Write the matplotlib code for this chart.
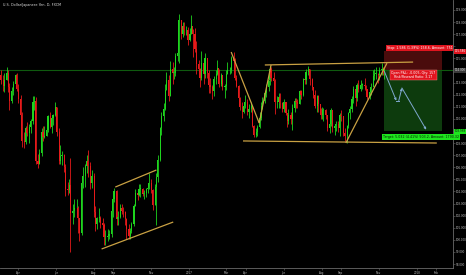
import matplotlib
matplotlib.use('Agg')
import matplotlib.pyplot as plt
import matplotlib.dates as mdates
import numpy as np
import pandas as pd
from matplotlib.patches import Rectangle

# ---------------- data (2-trading-day bars, USD/JPY) ----------------
first_open = 113.6
closes = [
    113.2, 112.7, 113.2, 113.8, 112.6, 111.5, 112.3, 112.9, 113.6, 112.5,
    111.6, 110.3, 108.2, 108.1, 109.2, 108.8, 109.3, 109.8, 111.4, 111.5, 106.5,
    106.3, 107.2, 108.9, 108.5, 108.6, 109.1, 110.2, 109.3, 110.1, 110.3, 111.0,
    108.9, 106.5, 106.9, 107.0, 106.0, 104.2, 104.1, 104.5, 102.2, 102.4, 102.6,
    102.6, 101.8, 100.6, 104.7, 105.3, 106.1, 106.5, 106.1, 104.7, 105.3, 102.3,
    101.3, 101.8, 101.8, 101.4, 101.2, 100.2, 100.2, 100.3, 100.5, 102.4, 103.4,
    104.0, 101.7, 101.9, 102.6, 102.4, 102.3, 101.7, 100.9, 100.3, 100.7, 101.3,
    102.8, 103.9, 103.7, 104.2, 104.2, 103.8, 103.9, 104.2, 104.3, 104.7, 104.1,
    102.9, 104.4, 105.2, 106.6, 109.2, 110.2, 110.8, 112.4, 113.2, 111.9, 114.1,
    113.8, 113.8, 115.2, 115.4, 118.2, 117.0, 117.7, 117.3, 117.3, 116.5, 117.0,
    117.7, 117.0, 115.8, 114.5, 114.1, 113.4, 114.6, 113.7, 115.0, 113.8, 112.8,
    112.6, 112.3, 113.3, 113.7, 114.2, 112.9, 113.6, 112.6, 112.7, 113.7,
    114.0, 114.0, 115.0, 114.8, 113.4, 112.7, 111.7, 111.0, 110.6, 111.1, 111.4,
    110.6, 110.8, 111.1, 109.4, 108.7, 108.9, 109.3, 110.1, 111.1, 111.5, 112.1,
    112.6, 113.2, 114.1, 113.4, 113.1, 111.4, 111.4, 111.8, 111.3, 110.8, 111.4,
    110.5, 109.8, 110.3, 110.0, 110.9, 111.5, 111.4, 111.2, 112.3, 112.0, 113.3,
    113.2, 113.9, 114.1, 113.3, 112.6, 112.0, 111.1, 111.9, 111.2, 110.3, 110.7,
    110.7, 110.3, 109.2, 109.6, 110.7, 109.2, 109.4, 109.6, 109.2, 110.3, 110.2,
    108.8, 108.6, 109.4, 110.5, 110.8, 111.6, 112.5, 111.7, 112.8, 112.5, 112.8,
    112.8, 112.7, 112.5, 111.8, 112.2, 112.6, 113.5, 113.7, 113.7, 113.6, 114.0,
    114.1, 113.9, 114.0,
]
highs = [
    114.0, 113.6, 113.8, 114.3, 114.0, 113.0, 112.6, 113.1, 113.7, 113.8,
    112.9, 112.0, 110.6, 108.9, 109.4, 109.7, 109.6, 110.0, 111.9, 111.9, 111.8,
    107.1, 107.5, 109.2, 109.4, 109.4, 109.5, 110.3, 110.6, 110.3, 110.4, 111.4,
    111.0, 109.2, 107.8, 107.3, 107.1, 106.3, 104.8, 105.0, 106.8, 103.0, 103.4,
    103.4, 102.8, 101.6, 104.9, 106.0, 106.3, 107.0, 107.4, 106.4, 105.8, 105.5,
    102.8, 101.9, 102.6, 102.0, 101.8, 101.4, 100.8, 100.9, 100.8, 102.6, 103.5,
    104.3, 104.1, 102.4, 103.0, 103.0, 102.7, 102.4, 101.8, 101.3, 101.0, 101.5,
    103.0, 104.2, 104.0, 104.6, 104.6, 104.3, 104.1, 104.3, 104.6, 105.5, 105.0,
    104.2, 104.6, 105.5, 107.0, 109.3, 110.6, 111.3, 112.9, 113.9, 113.6, 114.8,
    114.7, 114.3, 115.4, 116.1, 118.7, 118.2, 118.0, 118.0, 117.7, 117.6, 117.5,
    118.6, 117.4, 117.5, 116.4, 114.9, 114.2, 115.6, 114.8, 115.4, 115.0, 114.0,
    113.4, 112.8, 113.5, 114.0, 114.9, 114.1, 113.8, 113.5, 112.9, 114.0,
    114.7, 114.3, 115.2, 115.5, 115.0, 113.6, 112.8, 111.8, 111.4, 111.4, 112.0,
    111.6, 111.2, 111.4, 111.0, 109.5, 109.2, 109.5, 110.6, 111.4, 111.8, 112.3,
    112.9, 113.2, 114.4, 114.3, 113.9, 113.3, 111.9, 112.1, 112.1, 111.4, 111.6,
    111.4, 110.5, 110.8, 110.6, 111.2, 111.7, 111.7, 111.6, 112.4, 112.4, 113.4,
    113.5, 114.1, 114.4, 114.1, 113.4, 112.6, 112.4, 112.0, 112.0, 110.9, 111.0,
    110.9, 110.8, 110.2, 109.9, 110.9, 110.3, 109.6, 109.8, 109.8, 110.5, 110.7,
    110.1, 109.2, 109.5, 110.6, 111.1, 111.9, 112.7, 112.4, 113.0, 113.2, 113.2,
    113.0, 113.4, 112.8, 112.4, 112.4, 113.0, 114.0, 114.1, 114.3, 113.8, 114.3,
    114.6, 114.3, 114.2,
]
lows = [
    112.9, 112.3, 112.2, 113.2, 112.2, 110.7, 111.3, 112.0, 112.8, 112.3,
    111.3, 110.2, 107.7, 107.6, 107.9, 108.6, 108.0, 108.8, 109.6, 110.7, 106.3,
    105.9, 106.3, 106.9, 108.2, 108.4, 108.6, 108.9, 109.2, 108.8, 109.5, 110.2,
    108.6, 106.3, 106.3, 106.2, 105.6, 103.6, 103.7, 103.9, 99.0, 101.3, 101.9,
    102.3, 100.6, 99.9, 100.4, 104.3, 104.4, 105.5, 105.2, 104.2, 104.3, 101.9,
    100.7, 100.9, 101.5, 101.0, 100.9, 99.6, 99.6, 99.9, 100.1, 100.2, 101.9,
    103.1, 101.2, 101.2, 101.8, 102.1, 101.9, 101.2, 100.1, 100.1, 100.1, 100.6,
    101.1, 102.8, 103.3, 103.6, 103.5, 103.6, 103.4, 103.5, 103.9, 104.2, 103.9,
    102.5, 102.9, 101.2, 104.8, 106.5, 108.7, 109.8, 110.7, 112.4, 111.5, 111.9,
    112.9, 113.3, 113.5, 114.8, 114.6, 116.6, 116.8, 116.9, 116.9, 116.1, 116.4,
    117.0, 115.1, 115.5, 113.7, 113.6, 112.6, 113.2, 112.9, 113.4, 113.4, 112.1,
    112.1, 111.6, 111.9, 112.9, 113.6, 112.6, 112.7, 112.4, 111.7, 112.4,
    113.7, 113.7, 113.8, 114.6, 113.2, 112.6, 111.6, 110.7, 110.1, 110.5, 110.9,
    110.3, 110.1, 110.6, 109.3, 108.5, 108.5, 108.6, 109.2, 109.9, 110.8, 111.3,
    111.8, 112.3, 112.8, 113.1, 112.8, 110.4, 110.9, 110.9, 110.9, 110.6, 110.6,
    110.3, 109.3, 109.6, 109.6, 109.1, 110.6, 110.9, 110.9, 111.2, 111.6, 111.9,
    112.9, 112.9, 113.6, 112.8, 112.4, 111.7, 110.9, 110.6, 110.6, 110.0, 110.0,
    109.8, 110.0, 109.0, 108.8, 109.4, 108.9, 108.7, 109.0, 108.9, 108.6, 109.8,
    108.6, 108.2, 108.0, 109.2, 110.0, 110.6, 111.3, 111.1, 111.5, 112.2, 112.3,
    112.5, 112.4, 112.2, 111.6, 111.6, 112.0, 113.3, 113.2, 113.3, 113.0, 113.2,
    113.6, 113.6, 113.3,
]
start_date = '2016-03-04'

entry_price = 114.0
stop_price = 115.586
target_price = 108.968
pos_start, pos_end = '2017-11-10', '2018-02-11'

proj_dates = ['2017-11-10', '2017-11-29', '2017-12-03', '2017-12-08', '2018-01-16']
proj_prices = [113.9, 111.5, 111.5, 112.55, 109.1]

trend_lines = [  # (date1, price1, date2, price2)
    ('2016-09-04', 104.36, '2016-11-09', 105.77),
    ('2016-08-13', 99.24, '2016-12-06', 101.47),
    ('2017-03-09', 115.52, '2017-04-23', 109.65),
    ('2017-04-23', 109.65, '2017-05-12', 114.45),
    ('2017-05-02', 114.45, '2017-12-26', 114.69),
    ('2017-03-28', 108.17, '2018-02-02', 108.0),
    ('2017-09-09', 108.0, '2017-11-14', 114.6),
]

yticks = list(range(98, 120))
xtick_dates = ['2016-04-01', '2016-06-01', '2016-08-01', '2016-09-01', '2016-11-01',
               '2017-01-01', '2017-03-01', '2017-04-01', '2017-06-01', '2017-08-01',
               '2017-09-01', '2017-11-01', '2018-01-01', '2018-02-01']
xtick_labels = ['Apr', 'Jun', 'Aug', 'Sep', 'Nov', '2017', 'Mar', 'Apr', 'Jun', 'Aug',
                'Sep', 'Nov', '2018', 'Feb']
title = 'U.S. Dollar/Japanese Yen, D, FXCM'

# ---------------- plotting ----------------
W, H = 466, 275
YMIN, YMAX = 97.67, 119.82
fig = plt.figure(figsize=(W / 100, H / 100), dpi=100, facecolor='black')
ax = fig.add_axes([0, 7 / H, 453 / W, 268 / H])
ax.set_facecolor('black')

dates = pd.bdate_range(start_date, periods=len(closes), freq='2B')
x = mdates.date2num(dates)
c = np.array(closes)
o = np.concatenate([[first_open], c[:-1]])
h = np.array(highs)
l = np.array(lows)
up = c >= o
col = np.where(up, '#1ed41e', '#e51a1a')

ax.vlines(x, l, h, colors=col, linewidth=0.6, zorder=3)
bot = np.minimum(o, c)
ht = np.maximum(np.abs(c - o), 0.06)
ax.bar(x, ht, bottom=bot, width=1.8, color=col, linewidth=0, zorder=3)

# position tool
ps, pe = mdates.datestr2num(pos_start), mdates.datestr2num(pos_end)
ax.add_patch(Rectangle((ps, entry_price), pe - ps, stop_price - entry_price,
                       facecolor='#4a0c0c', edgecolor='none', zorder=1))
ax.add_patch(Rectangle((ps, target_price), pe - ps, entry_price - target_price,
                       facecolor='#0d3b0d', edgecolor='none', zorder=1))
ax.axhline(entry_price, color='#0f5a0f', linewidth=0.8, zorder=2)

# trend lines
for d1, p1, d2, p2 in trend_lines:
    ax.plot([mdates.datestr2num(d1), mdates.datestr2num(d2)], [p1, p2],
            color='#c9a143', linewidth=0.9, zorder=4, solid_capstyle='butt')

# projection path
px = mdates.datestr2num(proj_dates)
pc = '#7fa8cf'
segs = [(0, 1, True), (1, 2, False), (2, 3, True), (3, 4, True)]
for i, j, arrow in segs:
    if arrow:
        ax.annotate('', xy=(px[j], proj_prices[j]), xytext=(px[i], proj_prices[i]),
                    arrowprops=dict(arrowstyle='-|>', color=pc, lw=0.7,
                                    mutation_scale=3, shrinkA=0, shrinkB=0), zorder=5)
    else:
        ax.plot([px[i], px[j]], [proj_prices[i], proj_prices[j]], color=pc, lw=0.7, zorder=5)

# labels on position
mid = (ps + pe) / 2
fs = 2.3
ax.text(mid + 10, stop_price + 0.25, 'Stop: 1.586 (1.39%) 158.6, Amount: 751',
        color='white', fontsize=fs, ha='center', va='center', zorder=6,
        bbox=dict(boxstyle='square,pad=0.3', fc='#e0141e', ec='none'))
ax.text(mid, entry_price - 0.35, 'Open P&L: -0.005, Qty: 157\nRisk/Reward Ratio: 3.17',
        color='white', fontsize=fs, ha='center', va='center', zorder=6, linespacing=1.0,
        bbox=dict(boxstyle='square,pad=0.3', fc='#e0141e', ec='#ff8080', lw=0.3))
ax.text(mid + 12, target_price - 0.45, 'Target: 5.032 (4.41%) 503.2, Amount: 1790.32',
        color='#052005', fontsize=fs, ha='center', va='center', zorder=6,
        bbox=dict(boxstyle='square,pad=0.3', fc='#1ee61e', ec='none'))

# axes styling
ax.set_xlim(mdates.datestr2num('2016-03-03'), mdates.datestr2num('2018-02-28'))
ax.set_ylim(YMIN, YMAX)
for s in ['top', 'left']:
    ax.spines[s].set_visible(False)
for s in ['right', 'bottom']:
    ax.spines[s].set_color('#6a6a6a')
    ax.spines[s].set_linewidth(0.6)
ax.yaxis.tick_right()
tags = [stop_price, entry_price, target_price]
ax.set_yticks(yticks)
ax.set_yticklabels(['' if any(abs(v - t) < 0.45 for t in tags) else f'{v:.3f}'
                    for v in yticks])
ax.set_xticks(mdates.datestr2num(xtick_dates))
ax.set_xticklabels(xtick_labels)
ax.tick_params(axis='both', colors='#6a6a6a', labelcolor='#bbbbbb', labelsize=2.0,
               length=1.5, width=0.4, pad=0.8)

# axis price tags
for val, fc, tc in [(stop_price, '#e0141e', 'white'), (entry_price, '#3a3a3a', '#dddddd'),
                    (target_price, '#1ee61e', '#052005')]:
    ax.text(1.004, (val - YMIN) / (YMAX - YMIN), f'{val:.3f}', transform=ax.transAxes,
            fontsize=2.0, color=tc, ha='left', va='center', zorder=7, clip_on=False,
            bbox=dict(boxstyle='square,pad=0.2', fc=fc, ec='none'))

fig.text(3 / W, 1 - 5 / H, title, color='#dddddd', fontsize=2.4, ha='left', va='center')

fig.savefig('out.png', dpi=100, facecolor='black')
